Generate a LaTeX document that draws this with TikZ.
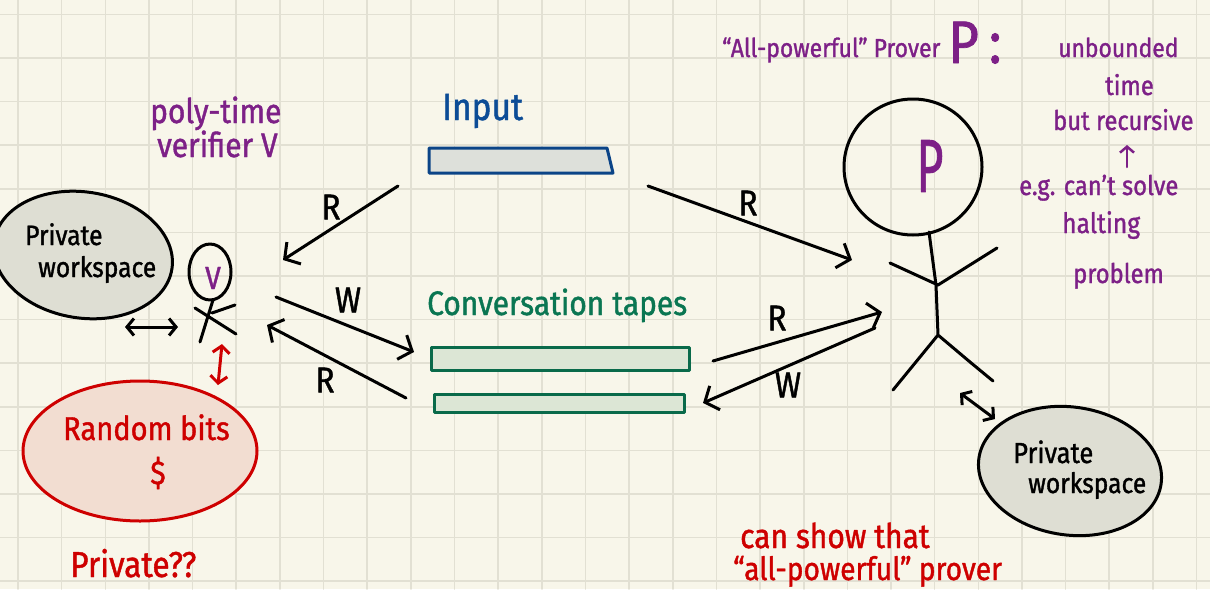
\documentclass[tikz,border=0pt]{standalone}
\usepackage{fontspec}
\newfontfamily\hand[FakeStretch=0.88,FakeBold=1.2]{Fira Sans}
\usetikzlibrary{arrows.meta}
\definecolor{paper}{RGB}{248,246,234}
\definecolor{gridline}{RGB}{226,224,211}
\definecolor{inkpurple}{RGB}{125,32,135}
\definecolor{inkblue}{RGB}{12,76,150}
\definecolor{inkgreen}{RGB}{10,118,82}
\definecolor{inkred}{RGB}{206,0,0}
\definecolor{wsgrey}{RGB}{222,222,211}
\definecolor{bitsfill}{RGB}{242,221,209}
\definecolor{tapegrey}{RGB}{221,224,218}
\definecolor{tapegreen}{RGB}{220,230,213}
\tikzset{
  pen/.style={line width=3pt,draw=black},
  conn/.style={pen,-{Straight Barb[length=11pt,width=26pt]}},
  twoway/.style={pen,{Straight Barb[length=7pt,width=17pt]}-{Straight Barb[length=7pt,width=17pt]}},
  ink/.style={inner sep=0pt,anchor=base west,font=\hand\fontsize{#1}{#1}\selectfont},
  lbl/.style={inner sep=0pt,font=\hand\fontsize{36}{36}\selectfont},
  tape/.style={line width=3pt,draw=#1!90!black}
}

\begin{document}
\begin{tikzpicture}[x=1pt,y=-1pt,line cap=round,line join=round]
\useasboundingbox (0,0) rectangle (1210,589);
% squared paper
\fill[paper] (0,0) rectangle (1210,589);
\foreach \k in {0,...,27} \draw[gridline,line width=1.6pt] ({18+43.65*\k},0) -- ({18+43.65*\k},589);
\foreach \k in {0,...,13} \draw[gridline,line width=1.6pt] (0,{14.3+43.6*\k}) -- (1210,{14.3+43.6*\k});

% arrow ends
\foreach \x/\y/\n in {398/186/a1,283/260/b1,276/297/a2,414/352/b2,406/398/a3,267/325/b3,
  648/186/a4,852/260/b4,713/361/a5,882/312/b5,875/328/a6,703/403/b6,
  125/327/c1,178/327/d1,222/344/c2,218/385/d2,960/393/c3,995/419/d3,1127/167/c4,1127/145/d4}
  \coordinate (\n) at (\x,\y);

% verifier side
\draw[pen,fill=wsgrey,rotate around={-9:(83,255)}] (83,255) ellipse [x radius=90,y radius=63];
\node[ink=28] (vwsA) at (25,245) {Private};
\node[ink=28] (vwsB) at (38,277) {workspace};
\draw[line width=3pt,draw=inkred,fill=bitsfill] (140,451) ellipse [x radius=117,y radius=70];
\node[ink=33,text=inkred] (bitsA) at (63,440) {Random bits};
\node[ink=33,text=inkred,anchor=base] (bitsB) at (158,484) {\$};
\node[ink=36,text=inkred] (bitsQ) at (70,577) {Private??};
\node[ink=34,text=inkpurple] (polyA) at (150,123) {poly-time};
\node[ink=34,text=inkpurple] (polyB) at (157,157) {verifier V};

\draw[pen] (210,272) ellipse [x radius=21,y radius=28];
\node[inner sep=0pt,text=inkpurple,font=\hand\fontsize{32}{32}\selectfont] (vee) at (213,278) {V};
\draw[pen] (213,300) -- (200,342) (195,308) -- (236,334) (212,313) -- (235,305);
\draw[twoway] (c1) -- (d1);
\draw[twoway,draw=inkred] (c2) -- (d2);

% tapes
\node[ink=38,text=inkblue] (inp) at (442,120) {Input};
\draw[tape=inkblue,fill=tapegrey] (429,148) -- (607,148) -- (613,173) -- (429,173) -- cycle;
\node[ink=34,text=inkgreen] (conv) at (427,315) {Conversation tapes};
\draw[tape=inkgreen,fill=tapegreen] (431,347) rectangle (689,370);
\draw[tape=inkgreen,fill=tapegreen] (434,394) rectangle (684,412);

% reading and writing
\draw[conn] (a1) -- (b1);
\draw[conn] (a2) -- (b2);
\draw[conn] (a3) -- (b3);
\draw[conn] (a4) -- (b4);
\draw[conn] (a5) -- (b5);
\draw[conn] (a6) -- (b6);
\node[lbl] (r1) at (331,207) {R};
\node[lbl] (w1) at (348,300) {W};
\node[lbl] (r2) at (325,380) {R};
\node[lbl] (r3) at (748,203) {R};
\node[lbl] (r4) at (777,318) {R};
\node[lbl] (w2) at (788,385) {W};

% prover side
\node[ink=26,text=inkpurple] (ttl) at (722,57) {“All-powerful” Prover};
\node[ink=60,text=inkpurple] (ttlP) at (948,63) {P\,:};
\draw[pen] (913,167) ellipse [x radius=69,y radius=68];
\node[inner sep=0pt,text=inkpurple,font=\hand\fontsize{75}{75}\selectfont] (pee) at (930,166) {\scalebox{0.7}[1]{P}};
\draw[pen] (929,232) -- (936,285) -- (938,335) (890,263) -- (938,285) -- (997,248)
  (893,390) -- (938,335) -- (970,362) -- (993,381);
\draw[twoway] (c3) -- (d3);
\draw[pen,fill=wsgrey,rotate around={-8:(1070,471)}] (1070,471) ellipse [x radius=92,y radius=64];
\node[ink=29] (pwsA) at (1013,463) {Private};
\node[ink=28] (pwsB) at (1028,493) {workspace};

\node[ink=26,text=inkpurple] (nt1) at (1058,57) {unbounded};
\node[ink=27,text=inkpurple] (nt2) at (1105,95) {time};
\node[ink=27,text=inkpurple] (nt3) at (1053,130) {but recursive};
\draw[line width=2.5pt,draw=inkpurple,-{Straight Barb[length=6pt,width=14pt]}] (c4) -- (d4);
\node[ink=27,text=inkpurple] (nt4) at (1019,195) {e.g. can’t solve};
\node[ink=28,text=inkpurple] (nt5) at (1062,233) {halting};
\node[ink=27,text=inkpurple] (nt6) at (1073,283) {problem};

\node[ink=34,text=inkred] (showA) at (740,548) {can show that};
\node[ink=32,text=inkred] (showB) at (733,580) {“all-powerful” prover};
\end{tikzpicture}
\end{document}
